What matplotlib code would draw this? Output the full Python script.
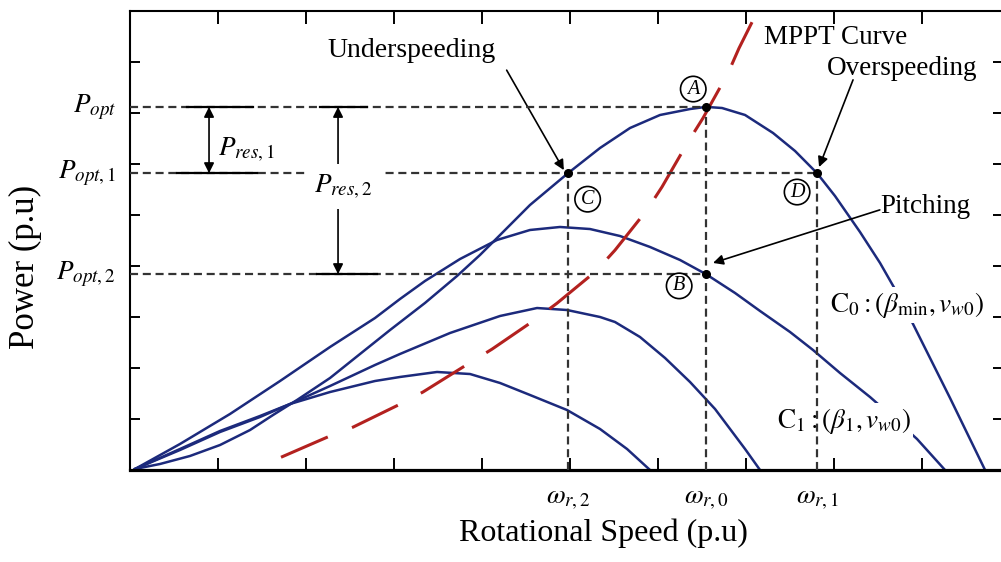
import numpy as np
import matplotlib
matplotlib.use('Agg')
import matplotlib.pyplot as plt

plt.rcParams['font.family'] = 'Liberation Serif'
plt.rcParams['mathtext.fontset'] = 'stix'
plt.rcParams['lines.scale_dashes'] = False

# power curves (x = rotational speed, y = power, in tick units)
c0_x = [0.057, 0.341, 0.682, 1.023, 1.364, 1.625, 1.898, 2.273, 2.614, 2.955, 3.352, 3.716,
        3.977, 4.205, 4.545, 4.977, 5.341, 5.682, 6.023, 6.364, 6.545, 6.727, 6.989, 7.307,
        7.557, 7.807, 8.011, 8.295, 8.523, 8.750, 8.977, 9.318, 9.716]
c0_y = [0.020, 0.118, 0.275, 0.490, 0.784, 1.078, 1.373, 1.804, 2.275, 2.745, 3.275, 3.804,
        4.216, 4.608, 5.196, 5.82, 6.314, 6.706, 6.961, 7.078, 7.12, 7.098, 6.961, 6.608,
        6.255, 5.82, 5.373, 4.667, 4.059, 3.373, 2.588, 1.412, 0.0]

c1_x = [0.057, 0.568, 1.136, 1.705, 2.273, 2.784, 3.068, 3.352, 3.750, 4.170, 4.545, 4.886,
        5.227, 5.568, 5.909, 6.250, 6.545, 6.875, 7.159, 7.500, 7.761, 8.068, 8.409, 8.693,
        8.943, 9.261]
c1_y = [0.020, 0.510, 1.098, 1.745, 2.412, 2.980, 3.353, 3.706, 4.137, 4.510, 4.706, 4.765,
        4.725, 4.588, 4.373, 4.118, 3.84, 3.471, 3.118, 2.706, 2.353, 1.902, 1.431, 1.000,
        0.608, 0.0]

c2_x = [0.057, 0.568, 1.023, 1.477, 1.818, 2.273, 2.784, 3.068, 3.636, 4.205, 4.625, 4.966,
        5.341, 5.511, 5.795, 6.080, 6.364, 6.648, 6.989, 7.159]
c2_y = [0.020, 0.412, 0.765, 1.059, 1.294, 1.647, 2.059, 2.275, 2.686, 3.020, 3.176, 3.137,
        3.000, 2.902, 2.608, 2.196, 1.725, 1.196, 0.412, 0.0]

c3_x = [0.057, 0.568, 1.023, 1.477, 1.818, 2.273, 2.784, 3.068, 3.489, 3.864, 4.205, 4.545,
        4.966, 5.341, 5.648, 5.909]
c3_y = [0.020, 0.392, 0.745, 1.039, 1.294, 1.529, 1.745, 1.824, 1.922, 1.882, 1.706, 1.471,
        1.176, 0.804, 0.412, 0.0]

mppt_x = [1.716, 2.25, 2.534, 3.068, 3.33, 3.841, 4.114, 4.58, 4.852, 5.295, 5.511, 5.875,
          6.045, 6.34, 6.511, 6.795, 6.92, 7.068]
mppt_y = [0.25, 0.65, 0.84, 1.29, 1.53, 2.08, 2.37, 2.92, 3.27, 3.90, 4.31, 5.10,
          5.55, 6.43, 6.90, 7.78, 8.27, 8.78]

# operating points
p_opt, p_opt1, p_opt2 = 7.12, 5.82, 3.84
w_r2, w_r0, w_r1 = 4.977, 6.545, 7.807
pts = {'A': (w_r0, p_opt), 'B': (w_r0, p_opt2), 'C': (w_r2, p_opt1), 'D': (w_r1, p_opt1)}

y_labels = [r'$P_{opt}$', r'$P_{opt,1}$', r'$P_{opt,2}$']
x_labels = [r'$\omega_{r,2}$', r'$\omega_{r,0}$', r'$\omega_{r,1}$']

blue = '#1c2a7c'
red = '#b3211f'
gray = '#333333'
fs = 19.5

fig = plt.figure(figsize=(10.01, 5.62), dpi=100)
ax = fig.add_axes([130/1001, 92/562, 873/1001, 459/562])
ax.set_xlim(0, 9.92)
ax.set_ylim(0, 9.0)

for s in ['left', 'top', 'right']:
    ax.spines[s].set_linewidth(1.5)
ax.spines['bottom'].set_linewidth(2.3)
ax.set_xticks(np.arange(1, 10))
ax.set_yticks(np.arange(1, 9))
ax.tick_params(direction='in', top=True, right=True, labelbottom=False, labelleft=False,
               width=1.4)
ax.tick_params(axis='x', length=9)
ax.tick_params(axis='y', length=7.5)

# dashed guide lines
dash = dict(color=gray, lw=1.6, dashes=(5.8, 3.4), zorder=4)
ax.plot([0, w_r0], [p_opt, p_opt], **dash)
ax.plot([0, w_r1], [p_opt1, p_opt1], **dash)
ax.plot([0, w_r0], [p_opt2, p_opt2], **dash)
ax.plot([w_r2, w_r2], [0, p_opt1], **dash)
ax.plot([w_r0, w_r0], [0, p_opt], **dash)
ax.plot([w_r1, w_r1], [0, p_opt1], **dash)

# short solid extension marks under the arrows
solid = dict(color='black', lw=1.6, zorder=4)
ax.plot([0.648, 1.398], [p_opt, p_opt], **solid)
ax.plot([2.16, 2.69], [p_opt, p_opt], **solid)
ax.plot([0.534, 1.443], [p_opt1, p_opt1], **solid)
ax.plot([2.125, 2.807], [p_opt2, p_opt2], **solid)

# curves
for cx, cy in [(c0_x, c0_y), (c1_x, c1_y), (c2_x, c2_y), (c3_x, c3_y)]:
    ax.plot(cx, cy, color=blue, lw=1.8, zorder=2, solid_joinstyle='round')
ax.plot(mppt_x, mppt_y, color=red, lw=2.2, dashes=(36.7, 18.7), zorder=2.5)

# points
for k, (px, py) in pts.items():
    ax.plot(px, py, 'o', color='black', ms=5.5, zorder=6)

circ = dict(boxstyle='circle,pad=0.16', fc='white', ec='black', lw=1.2)
letter_pos = {'A': (6.40, 7.47), 'B': (6.24, 3.61), 'C': (5.20, 5.31), 'D': (7.58, 5.45)}
for k, (lx, ly) in letter_pos.items():
    ax.text(lx, ly, k, fontsize=14.5, style='italic', ha='center', va='center', bbox=circ, zorder=5)

# annotations
arr = dict(arrowstyle='-|>', color='black', lw=1.2, mutation_scale=15, shrinkA=0, shrinkB=0)
ax.text(3.2, 8.22, 'Underspeeding', fontsize=20, ha='center', va='center')
ax.annotate('', xy=(4.93, 5.88), xytext=(4.28, 7.84), arrowprops=arr)
ax.text(7.205, 8.49, 'MPPT Curve', fontsize=fs, ha='left', va='center')
ax.text(7.92, 7.88, 'Overspeeding', fontsize=fs, ha='left', va='center')
ax.annotate('', xy=(7.83, 5.94), xytext=(8.216, 7.65), arrowprops=arr)
ax.text(8.52, 5.16, 'Pitching', fontsize=fs, ha='left', va='center')
ax.annotate('', xy=(6.625, 4.06), xytext=(8.52, 5.10), arrowprops=arr)

# reserve arrows
darr = dict(arrowstyle='<|-|>', color='black', lw=1.2, mutation_scale=15, shrinkA=0, shrinkB=0)
ax.annotate('', xy=(0.898, p_opt1), xytext=(0.898, p_opt), arrowprops=darr, zorder=5)
ax.text(1.0, 6.27, r'$P_{res,1}$', fontsize=fs, ha='left', va='center')
ax.annotate('', xy=(2.364, p_opt2), xytext=(2.364, p_opt), arrowprops=darr, zorder=5)
ax.text(2.42, 5.55, r'$P_{res,2}$', fontsize=fs, ha='center', va='center', zorder=6,
        bbox=dict(fc='white', ec='none', pad=6))

# curve labels
ax.text(7.955, 3.235, r'$\mathrm{C}_0:(\beta_{\min},v_{w0})$', fontsize=fs, ha='left', va='center',
        zorder=3, bbox=dict(fc='white', ec='none', pad=2))
ax.text(7.35, 0.96, r'$\mathrm{C}_1:(\beta_1,v_{w0})$', fontsize=fs, ha='left', va='center',
        zorder=3, bbox=dict(fc='white', ec='none', pad=2))

# custom tick labels
for yv, lab in zip([p_opt, p_opt1, p_opt2], y_labels):
    ax.text(-0.16, yv, lab, fontsize=fs, ha='right', va='center', clip_on=False)
xtr = ax.get_xaxis_transform()
for xv, lab in zip([w_r2, w_r0, w_r1], x_labels):
    ax.text(xv, -0.064, lab, fontsize=fs, ha='center', va='center', transform=xtr, clip_on=False)

fig.text(603/1001, 1 - 533/562, 'Rotational Speed (p.u)', fontsize=23, ha='center', va='center')
fig.text(25/1001, 1 - 267/562, 'Power (p.u)', fontsize=25, ha='center', va='center', rotation=90)

fig.savefig('out.png', dpi=100)
